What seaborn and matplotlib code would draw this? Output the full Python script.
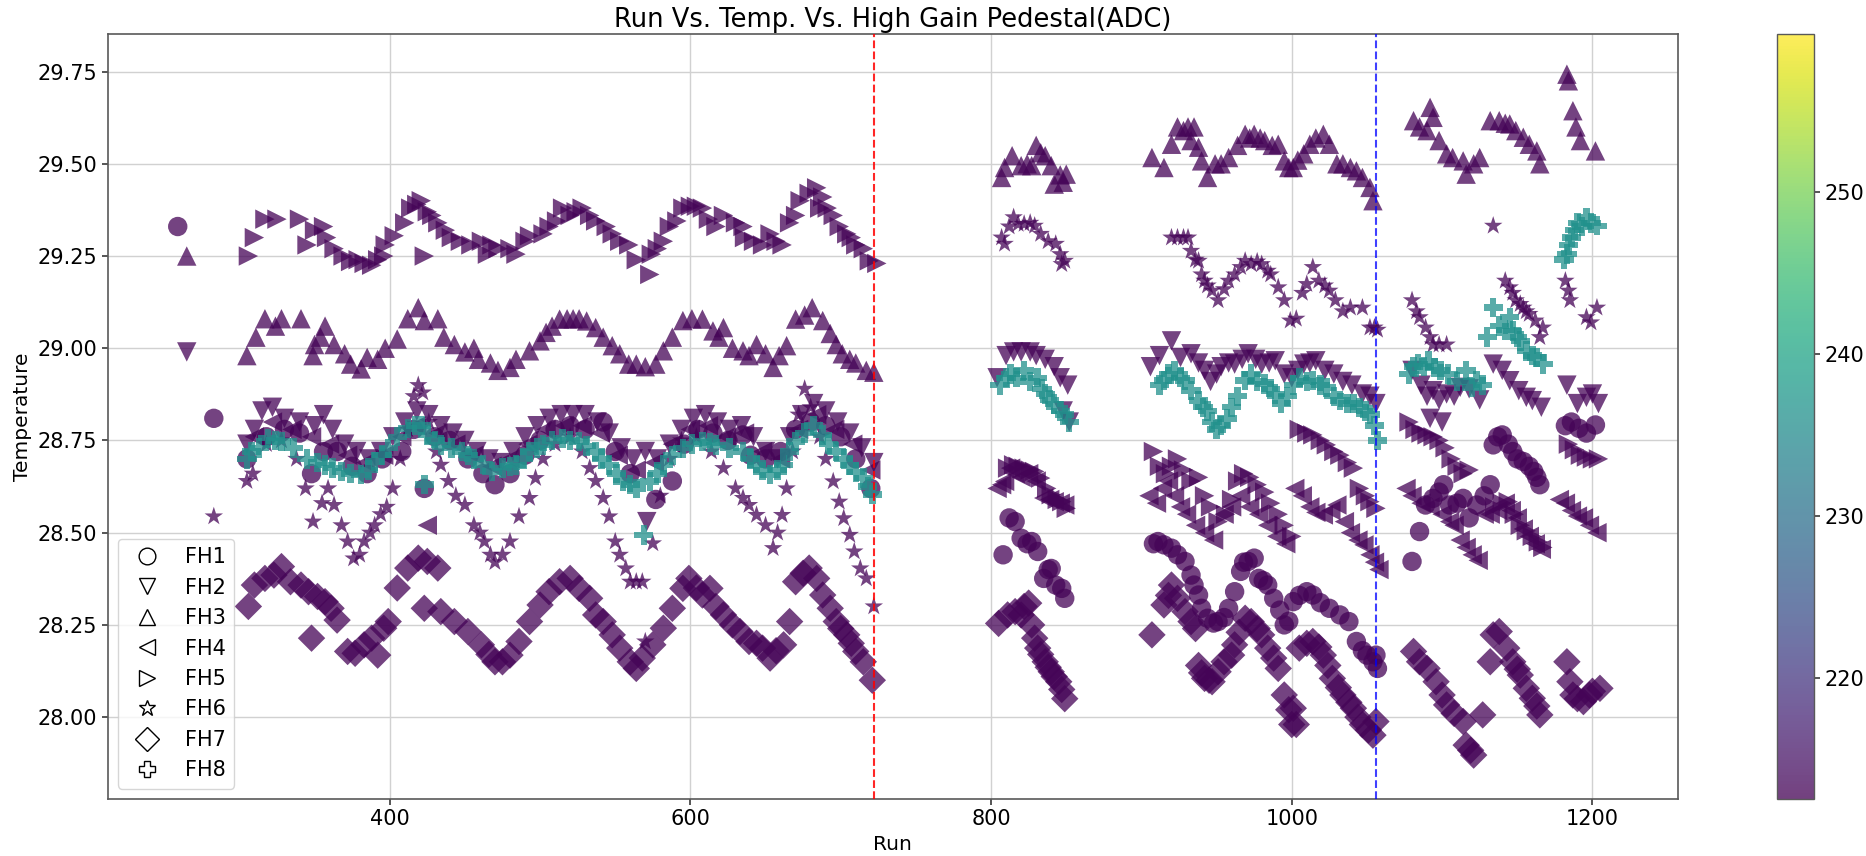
import matplotlib
matplotlib.use("Agg")
import matplotlib.pyplot as plt
import seaborn as sns
import pandas as pd
from matplotlib.lines import Line2D
from matplotlib.colors import Normalize
from matplotlib.cm import ScalarMappable

# ---------------- data (run, temperature) ----------------
fh1 = [(259, 29.33), (283, 28.81),
       (305, 28.70), (318, 28.76), (330, 28.78), (340, 28.77), (348, 28.66), (356, 28.72), (365, 28.72),
       (375, 28.68), (385, 28.66), (395, 28.70), (408, 28.72), (416, 28.78), (423, 28.62), (430, 28.76),
       (440, 28.75), (452, 28.70), (462, 28.66), (470, 28.63), (480, 28.66), (490, 28.71), (500, 28.75),
       (510, 28.78), (520, 28.79), (530, 28.78), (542, 28.80), (550, 28.72), (560, 28.66), (577, 28.59),
       (588, 28.64), (596, 28.74), (605, 28.78), (615, 28.77), (625, 28.75), (635, 28.765), (640, 28.71),
       (650, 28.70), (660, 28.72), (670, 28.78), (680, 28.80), (690, 28.79), (700, 28.76), (710, 28.70),
       (720, 28.62),
       (808, 28.44), (812, 28.54), (816, 28.53), (820, 28.485), (824, 28.47), (827, 28.476), (831, 28.449),
       (835, 28.376), (838, 28.40), (840, 28.403), (843, 28.358), (847, 28.349), (849, 28.322),
       (908, 28.47), (911, 28.476), (915, 28.467), (920, 28.458), (924, 28.44), (929, 28.422), (933, 28.385),
       (935, 28.358), (938, 28.331), (940, 28.295), (944, 28.268), (948, 28.255), (951, 28.259), (955, 28.27),
       (958, 28.295), (962, 28.34), (966, 28.395), (968, 28.42), (971, 28.422), (975, 28.431), (978, 28.376),
       (981, 28.37), (984, 28.358), (988, 28.322), (992, 28.29), (995, 28.25), (998, 28.26), (1001, 28.313),
       (1005, 28.33), (1010, 28.34), (1014, 28.331), (1019, 28.31), (1025, 28.295), (1032, 28.277),
       (1038, 28.259), (1043, 28.205), (1047, 28.18), (1050, 28.168), (1054, 28.15), (1056, 28.168),
       (1057, 28.132),
       (1080, 28.422), (1085, 28.503), (1089, 28.575), (1094, 28.593), (1098, 28.61), (1101, 28.63),
       (1105, 28.575), (1110, 28.58), (1114, 28.593), (1118, 28.54), (1123, 28.575), (1128, 28.60),
       (1132, 28.63), (1134, 28.738), (1137, 28.76), (1140, 28.765), (1144, 28.74), (1147, 28.72),
       (1150, 28.70), (1154, 28.693), (1158, 28.68), (1161, 28.666), (1163, 28.65), (1165, 28.63),
       (1182, 28.79), (1186, 28.80), (1191, 28.783), (1196, 28.77), (1202, 28.792)]

fh2 = [(265, 28.99),
       (305, 28.74), (310, 28.78), (315, 28.83), (322, 28.84), (330, 28.81), (340, 28.80), (350, 28.79),
       (356, 28.82), (362, 28.78), (370, 28.74), (378, 28.72), (386, 28.70), (394, 28.72), (402, 28.76),
       (410, 28.80), (418, 28.83), (426, 28.82), (434, 28.79), (442, 28.77), (450, 28.75), (458, 28.72),
       (466, 28.70), (474, 28.69), (482, 28.72), (490, 28.76), (498, 28.79), (506, 28.81), (514, 28.82),
       (522, 28.82), (530, 28.82), (538, 28.80), (546, 28.77), (554, 28.73), (562, 28.70), (570, 28.72),
       (571, 28.53), (578, 28.70), (586, 28.74), (594, 28.78), (602, 28.81), (610, 28.82), (618, 28.80),
       (626, 28.78), (634, 28.79), (642, 28.76), (650, 28.72), (658, 28.70), (666, 28.76), (674, 28.82),
       (682, 28.85), (690, 28.83), (698, 28.80), (706, 28.77), (714, 28.73), (722, 28.69),
       (804, 28.92), (810, 28.98), (815, 28.99), (820, 28.99), (826, 28.99), (830, 28.98), (836, 28.97),
       (842, 28.95), (846, 28.92), (848, 28.83), (851, 28.90), (852, 28.80),
       (906, 28.95), (912, 28.98), (920, 29.02), (926, 28.975), (933, 28.985), (938, 28.96), (942, 28.94),
       (946, 28.91), (950, 28.93), (953, 28.95), (958, 28.96), (962, 28.957), (967, 28.97), (971, 28.985),
       (976, 28.97), (980, 28.957), (985, 28.96), (989, 28.966), (995, 28.93), (1000, 28.92), (1004, 28.94),
       (1008, 28.957), (1012, 28.96), (1016, 28.966), (1022, 28.94), (1028, 28.93), (1034, 28.91),
       (1040, 28.90), (1047, 28.876), (1052, 28.87), (1056, 28.85),
       (1080, 28.94), (1086, 28.90), (1090, 28.87), (1092, 28.81), (1094, 28.885), (1098, 28.86),
       (1100, 28.80), (1103, 28.876), (1108, 28.87), (1112, 28.894), (1118, 28.89), (1125, 28.86),
       (1134, 28.957), (1140, 28.94), (1145, 28.912), (1151, 28.885), (1156, 28.867), (1160, 28.858),
       (1166, 28.84), (1183, 28.90), (1190, 28.85), (1196, 28.867), (1200, 28.876), (1204, 28.85)]

fh3 = [(265, 29.25),
       (305, 28.98), (311, 29.03), (317, 29.08), (324, 29.06), (328, 29.08), (341, 29.08), (349, 28.98),
       (350, 29.01), (354, 29.03), (357, 29.06), (363, 29.01), (370, 28.985), (374, 28.957), (381, 28.944),
       (385, 28.975), (392, 28.97), (397, 29.00), (405, 29.025), (412, 29.08), (419, 29.11), (423, 29.075),
       (432, 29.08), (436, 29.03), (443, 29.01), (450, 28.99), (456, 29.00), (459, 28.97), (467, 28.96),
       (472, 28.94), (480, 28.948), (484, 28.97), (493, 28.993), (500, 29.02), (504, 29.043), (508, 29.06),
       (513, 29.079), (518, 29.08), (522, 29.08), (526, 29.08), (531, 29.074), (537, 29.056), (542, 29.03),
       (548, 29.007), (553, 28.985), (559, 28.957), (564, 28.957), (570, 28.95), (577, 28.957), (582, 28.993),
       (588, 29.03), (595, 29.075), (601, 29.08), (608, 29.079), (615, 29.047), (619, 29.03), (622, 29.056),
       (628, 29.00), (635, 28.993), (639, 28.98), (644, 29.01), (650, 28.985), (655, 28.948), (659, 28.98),
       (664, 29.007), (670, 29.079), (676, 29.09), (681, 29.11), (688, 29.075), (693, 29.04), (697, 29.01),
       (701, 28.985), (706, 28.97), (710, 28.96), (717, 28.94), (722, 28.935),
       (807, 29.463), (809, 29.49), (814, 29.522), (820, 29.495), (824, 29.50), (827, 29.495), (830, 29.55),
       (833, 29.53), (836, 29.522), (840, 29.495), (842, 29.445), (846, 29.47), (848, 29.45), (850, 29.472),
       (907, 29.517), (915, 29.49), (920, 29.553), (924, 29.60), (928, 29.59), (931, 29.60), (933, 29.563),
       (935, 29.60), (938, 29.545), (940, 29.508), (944, 29.463), (949, 29.50), (953, 29.50), (958, 29.517),
       (964, 29.55), (969, 29.58), (972, 29.57), (975, 29.58), (979, 29.57), (982, 29.563), (987, 29.55),
       (991, 29.553), (995, 29.508), (998, 29.49), (1001, 29.49), (1004, 29.51), (1008, 29.527),
       (1012, 29.553), (1016, 29.57), (1021, 29.58), (1025, 29.553), (1030, 29.50), (1034, 29.50),
       (1039, 29.49), (1043, 29.481), (1047, 29.463), (1052, 29.436), (1054, 29.40),
       (1081, 29.617), (1085, 29.60), (1090, 29.59), (1092, 29.653), (1094, 29.626), (1098, 29.563),
       (1103, 29.527), (1107, 29.517), (1114, 29.508), (1116, 29.472), (1121, 29.50), (1125, 29.517),
       (1132, 29.617), (1138, 29.617), (1142, 29.61), (1145, 29.608), (1149, 29.59), (1154, 29.572),
       (1158, 29.553), (1163, 29.535), (1165, 29.50), (1183, 29.743), (1184, 29.725), (1187, 29.644),
       (1189, 29.60), (1192, 29.563), (1202, 29.535)]

fh4 = [(310, 28.76), (322, 28.80), (335, 28.78), (348, 28.76), (360, 28.74), (372, 28.71), (384, 28.69),
       (396, 28.71), (408, 28.76), (418, 28.79), (425, 28.52), (432, 28.77), (444, 28.74), (456, 28.71),
       (468, 28.68), (480, 28.70), (492, 28.74), (504, 28.78), (516, 28.79), (528, 28.79), (540, 28.77),
       (552, 28.71), (564, 28.67), (576, 28.69), (588, 28.74), (600, 28.78), (612, 28.79), (624, 28.76),
       (636, 28.77), (648, 28.72), (660, 28.70), (672, 28.78), (684, 28.82), (696, 28.78), (708, 28.74),
       (720, 28.67),
       (804, 28.62), (807, 28.63), (809, 28.639), (813, 28.675), (816, 28.66), (820, 28.65), (825, 28.66),
       (830, 28.64), (835, 28.594), (839, 28.59), (842, 28.584), (846, 28.58), (849, 28.575),
       (905, 28.60), (910, 28.58), (914, 28.62), (918, 28.64), (922, 28.60), (926, 28.57), (930, 28.55),
       (936, 28.52), (942, 28.50), (948, 28.48), (955, 28.55), (960, 28.57), (966, 28.60), (972, 28.57),
       (978, 28.55), (984, 28.52), (990, 28.49), (996, 28.47), (1002, 28.62), (1007, 28.60), (1012, 28.57),
       (1016, 28.555), (1021, 28.548), (1026, 28.56), (1030, 28.575), (1035, 28.53), (1039, 28.50),
       (1044, 28.48), (1048, 28.467), (1052, 28.44), (1055, 28.42), (1058, 28.40),
       (1076, 28.62), (1080, 28.60), (1086, 28.58), (1092, 28.57), (1100, 28.55), (1105, 28.53),
       (1108, 28.52), (1112, 28.48), (1116, 28.46), (1120, 28.44), (1124, 28.425), (1128, 28.55),
       (1132, 28.55), (1137, 28.56), (1142, 28.58), (1146, 28.56), (1150, 28.54), (1154, 28.51),
       (1158, 28.49), (1162, 28.47), (1166, 28.455), (1178, 28.59), (1182, 28.58), (1186, 28.56),
       (1190, 28.545), (1194, 28.54), (1198, 28.52), (1203, 28.50)]

fh5 = [(306, 29.25), (310, 29.30), (317, 29.35), (325, 29.35), (340, 29.35), (345, 29.28), (350, 29.32),
       (356, 29.33), (358, 29.30), (363, 29.27), (369, 29.25), (374, 29.235), (379, 29.24), (383, 29.23),
       (388, 29.225), (392, 29.24), (396, 29.25), (397, 29.28), (403, 29.305), (410, 29.34), (414, 29.38),
       (418, 29.39), (421, 29.40), (423, 29.25), (425, 29.37), (428, 29.36), (432, 29.34), (437, 29.32),
       (441, 29.30), (447, 29.29), (454, 29.28), (461, 29.29), (465, 29.255), (468, 29.28), (472, 29.27),
       (480, 29.27), (484, 29.255), (490, 29.29), (493, 29.305), (502, 29.31), (506, 29.33), (511, 29.345),
       (515, 29.38), (520, 29.36), (524, 29.37), (528, 29.38), (533, 29.36), (537, 29.345), (544, 29.33),
       (548, 29.31), (553, 29.29), (559, 29.28), (564, 29.24), (573, 29.20), (574, 29.255), (578, 29.27),
       (582, 29.29), (586, 29.33), (591, 29.345), (595, 29.38), (600, 29.385), (604, 29.385), (608, 29.38),
       (612, 29.35), (617, 29.33), (622, 29.36), (630, 29.34), (635, 29.33), (636, 29.30), (642, 29.29),
       (648, 29.28), (653, 29.31), (657, 29.29), (661, 29.28), (666, 29.34), (670, 29.36), (673, 29.40),
       (679, 29.42), (684, 29.435), (686, 29.38), (688, 29.41), (691, 29.38), (695, 29.36), (699, 29.33),
       (704, 29.31), (707, 29.30), (710, 29.28), (715, 29.27), (719, 29.237), (724, 29.23),
       (811, 28.675), (815, 28.684), (818, 28.68), (822, 28.675), (826, 28.67), (829, 28.666), (833, 28.648),
       (837, 28.62), (840, 28.603), (844, 28.59), (847, 28.584), (850, 28.566),
       (908, 28.72), (912, 28.68), (916, 28.66), (920, 28.68), (924, 28.70), (928, 28.67), (933, 28.64),
       (938, 28.65), (942, 28.60), (946, 28.57), (951, 28.53), (956, 28.55), (960, 28.59), (964, 28.64),
       (968, 28.66), (972, 28.65), (977, 28.63), (982, 28.61), (986, 28.58), (991, 28.55), (995, 28.52),
       (1000, 28.49), (1005, 28.78), (1010, 28.77), (1014, 28.765), (1019, 28.75), (1023, 28.738),
       (1028, 28.72), (1032, 28.71), (1037, 28.69), (1041, 28.675), (1045, 28.62), (1049, 28.60),
       (1052, 28.584), (1056, 28.566),
       (1078, 28.80), (1082, 28.78), (1086, 28.77), (1090, 28.765), (1094, 28.76), (1098, 28.75),
       (1102, 28.73), (1106, 28.70), (1110, 28.68), (1114, 28.66), (1118, 28.67), (1135, 28.57),
       (1140, 28.58), (1144, 28.584), (1148, 28.55), (1152, 28.52), (1156, 28.505), (1160, 28.49),
       (1164, 28.475), (1167, 28.46), (1184, 28.74), (1188, 28.725), (1192, 28.71), (1196, 28.705),
       (1200, 28.70), (1204, 28.70)]

fh6 = [(283, 28.544),
       (305, 28.64), (309, 28.66), (318, 28.74), (328, 28.75), (338, 28.70), (344, 28.62), (349, 28.53),
       (355, 28.58), (359, 28.62), (363, 28.575), (368, 28.52), (372, 28.476), (376, 28.43), (380, 28.44),
       (383, 28.476), (387, 28.50), (390, 28.52), (394, 28.55), (398, 28.57), (402, 28.62), (407, 28.70),
       (412, 28.78), (416, 28.87), (419, 28.90), (422, 28.88), (426, 28.80), (431, 28.72), (434, 28.684),
       (439, 28.64), (444, 28.60), (450, 28.575), (456, 28.52), (460, 28.50), (463, 28.476), (467, 28.44),
       (470, 28.42), (475, 28.44), (480, 28.476), (486, 28.544), (493, 28.594), (497, 28.648), (502, 28.70),
       (510, 28.74), (520, 28.76), (528, 28.72), (533, 28.675), (537, 28.64), (542, 28.594), (546, 28.544),
       (550, 28.476), (553, 28.44), (557, 28.403), (560, 28.367), (564, 28.367), (568, 28.367), (570, 28.205),
       (575, 28.471), (580, 28.60), (586, 28.70), (594, 28.75), (604, 28.76), (614, 28.72), (622, 28.675),
       (630, 28.62), (635, 28.594), (639, 28.575), (644, 28.548), (650, 28.52), (655, 28.458), (658, 28.50),
       (661, 28.548), (664, 28.62), (668, 28.72), (672, 28.82), (676, 28.89), (680, 28.84), (686, 28.76),
       (690, 28.70), (695, 28.639), (699, 28.584), (702, 28.539), (706, 28.494), (709, 28.449),
       (713, 28.403), (717, 28.376), (722, 28.30),
       (807, 29.30), (809, 29.283), (812, 29.33), (815, 29.355), (818, 29.337), (822, 29.337), (826, 29.34),
       (829, 29.332), (833, 29.31), (838, 29.29), (843, 29.283), (846, 29.255), (847, 29.228), (849, 29.237),
       (920, 29.30), (924, 29.30), (928, 29.30), (931, 29.30), (933, 29.264), (936, 29.24), (938, 29.237),
       (940, 29.20), (942, 29.183), (944, 29.17), (947, 29.156), (951, 29.13), (955, 29.16), (958, 29.183),
       (962, 29.20), (966, 29.22), (969, 29.237), (973, 29.228), (977, 29.235), (980, 29.228), (984, 29.21),
       (986, 29.20), (991, 29.165), (995, 29.13), (999, 29.075), (1003, 29.08), (1007, 29.15),
       (1010, 29.174), (1014, 29.22), (1018, 29.183), (1022, 29.17), (1025, 29.156), (1029, 29.13),
       (1034, 29.10), (1039, 29.11), (1047, 29.11), (1052, 29.056), (1055, 29.056), (1057, 29.05),
       (1080, 29.13), (1083, 29.10), (1085, 29.084), (1089, 29.056), (1092, 29.03), (1094, 29.01),
       (1098, 29.01), (1103, 29.01), (1134, 29.332), (1142, 29.183), (1145, 29.165), (1147, 29.15),
       (1149, 29.13), (1152, 29.12), (1154, 29.11), (1156, 29.10), (1158, 29.093), (1162, 29.075),
       (1165, 29.03), (1167, 29.056), (1182, 29.183), (1184, 29.156), (1185, 29.13), (1196, 29.084),
       (1199, 29.07), (1203, 29.11)]

fh7 = [(306, 28.30), (310, 28.358), (317, 28.376), (323, 28.385), (328, 28.408), (334, 28.367), (341, 28.358),
       (346, 28.34), (348, 28.214), (352, 28.327), (357, 28.313), (361, 28.295), (365, 28.263), (372, 28.178),
       (377, 28.173), (383, 28.196), (388, 28.214), (392, 28.168), (396, 28.241), (399, 28.259), (405, 28.35),
       (412, 28.404), (419, 28.431), (425, 28.422), (423, 28.295), (432, 28.404), (434, 28.286), (443, 28.259),
       (452, 28.232), (461, 28.196), (466, 28.17), (470, 28.15), (475, 28.15), (480, 28.168), (486, 28.205),
       (493, 28.259), (500, 28.304), (506, 28.34), (513, 28.367), (520, 28.376), (526, 28.349), (533, 28.322),
       (537, 28.277), (542, 28.259), (548, 28.223), (553, 28.187), (560, 28.15), (564, 28.132), (568, 28.16),
       (575, 28.196), (582, 28.241), (588, 28.295), (595, 28.349), (599, 28.376), (604, 28.35), (608, 28.331),
       (613, 28.349), (617, 28.30), (622, 28.277), (628, 28.25), (633, 28.232), (639, 28.205), (644, 28.20),
       (648, 28.187), (653, 28.16), (657, 28.18), (662, 28.196), (666, 28.259), (670, 28.367), (675, 28.39),
       (679, 28.404), (684, 28.376), (688, 28.331), (693, 28.295), (697, 28.259), (700, 28.24), (704, 28.223),
       (707, 28.20), (710, 28.178), (715, 28.15), (721, 28.10),
       (805, 28.254), (811, 28.277), (816, 28.286), (820, 28.277), (822, 28.30), (825, 28.309), (827, 28.25),
       (829, 28.214), (831, 28.187), (833, 28.17), (836, 28.15), (838, 28.135), (840, 28.123), (842, 28.11),
       (845, 28.096), (847, 28.075), (849, 28.05),
       (907, 28.223), (915, 28.304), (918, 28.33), (920, 28.358), (924, 28.322), (929, 28.286), (933, 28.259),
       (936, 28.24), (938, 28.14), (940, 28.12), (942, 28.105), (945, 28.10), (947, 28.096), (951, 28.123),
       (955, 28.15), (960, 28.168), (962, 28.196), (965, 28.23), (969, 28.268), (973, 28.259), (977, 28.24),
       (980, 28.223), (984, 28.187), (988, 28.16), (991, 28.132), (995, 28.06), (998, 28.02), (1000, 27.98),
       (1001, 28.024), (1003, 27.98), (1005, 28.187), (1010, 28.20), (1014, 28.205), (1018, 28.19),
       (1021, 28.168), (1024, 28.14), (1027, 28.105), (1031, 28.08), (1034, 28.06), (1038, 28.04),
       (1041, 28.024), (1044, 28.00), (1047, 27.98), (1051, 27.965), (1054, 27.951), (1056, 27.988),
       (1081, 28.178), (1085, 28.15), (1090, 28.132), (1096, 28.096), (1100, 28.06), (1103, 28.033),
       (1108, 28.01), (1114, 27.988), (1116, 27.924), (1119, 27.91), (1121, 27.897), (1127, 28.006),
       (1132, 28.15), (1134, 28.223), (1138, 28.232), (1143, 28.187), (1147, 28.15), (1150, 28.13),
       (1152, 28.114), (1156, 28.078), (1160, 28.051), (1163, 28.03), (1165, 28.006), (1183, 28.15),
       (1185, 28.096), (1187, 28.06), (1190, 28.05), (1194, 28.042), (1198, 28.06), (1200, 28.07),
       (1205, 28.078)]

fh8 = [(305, 28.70), (308, 28.72), (313, 28.73), (319, 28.756), (324, 28.75), (328, 28.747), (336, 28.73),
       (345, 28.70), (352, 28.69), (357, 28.684), (362, 28.675), (368, 28.666), (374, 28.66), (381, 28.657),
       (386, 28.67), (390, 28.693), (395, 28.71), (399, 28.729), (405, 28.76), (412, 28.783), (417, 28.79),
       (421, 28.79), (423, 28.63), (425, 28.765), (430, 28.75), (434, 28.738), (441, 28.73), (448, 28.72),
       (452, 28.71), (456, 28.70), (462, 28.685), (468, 28.666), (475, 28.675), (480, 28.68), (484, 28.684),
       (489, 28.70), (493, 28.72), (498, 28.73), (502, 28.738), (508, 28.75), (515, 28.756), (520, 28.75),
       (526, 28.747), (531, 28.735), (537, 28.72), (541, 28.70), (546, 28.684), (551, 28.66), (555, 28.639),
       (560, 28.63), (564, 28.62), (569, 28.494), (573, 28.639), (578, 28.66), (582, 28.684), (588, 28.71),
       (595, 28.729), (601, 28.74), (608, 28.747), (613, 28.745), (617, 28.738), (626, 28.73), (635, 28.72),
       (640, 28.70), (644, 28.684), (648, 28.67), (653, 28.657), (658, 28.67), (662, 28.684), (666, 28.72),
       (670, 28.747), (676, 28.77), (682, 28.79), (688, 28.765), (692, 28.74), (697, 28.72), (702, 28.70),
       (706, 28.684), (710, 28.665), (715, 28.648), (718, 28.625), (721, 28.603),
       (806, 28.90), (810, 28.92), (813, 28.93), (817, 28.92), (822, 28.94), (826, 28.91), (831, 28.92),
       (834, 28.89), (836, 28.876), (839, 28.86), (842, 28.849), (846, 28.83), (849, 28.82), (852, 28.80),
       (912, 28.90), (915, 28.912), (918, 28.93), (922, 28.94), (926, 28.92), (929, 28.912), (933, 28.885),
       (938, 28.858), (941, 28.84), (944, 28.83), (947, 28.80), (950, 28.78), (953, 28.79), (957, 28.81),
       (960, 28.84), (964, 28.87), (969, 28.912), (973, 28.93), (977, 28.91), (982, 28.903), (986, 28.89),
       (989, 28.876), (993, 28.85), (997, 28.87), (1001, 28.90), (1005, 28.92), (1010, 28.91), (1014, 28.912),
       (1019, 28.90), (1023, 28.894), (1028, 28.87), (1032, 28.858), (1037, 28.85), (1041, 28.85),
       (1045, 28.84), (1049, 28.83), (1052, 28.82), (1055, 28.79), (1057, 28.75),
       (1078, 28.93), (1081, 28.95), (1084, 28.957), (1088, 28.95), (1091, 28.966), (1095, 28.948),
       (1099, 28.94), (1104, 28.93), (1110, 28.91), (1116, 28.94), (1120, 28.894), (1123, 28.912),
       (1127, 28.90), (1130, 29.03), (1134, 29.11), (1138, 29.06), (1142, 29.05), (1145, 29.084),
       (1147, 29.047), (1150, 29.03), (1152, 29.02), (1156, 28.993), (1160, 28.98), (1163, 28.975),
       (1167, 28.957), (1181, 29.24), (1183, 29.255), (1184, 29.28), (1186, 29.30), (1188, 29.32),
       (1190, 29.34), (1193, 29.33), (1196, 29.355), (1199, 29.34), (1203, 29.332)]

fh_names = ["FH1", "FH2", "FH3", "FH4", "FH5", "FH6", "FH7", "FH8"]
fh_markers = ["o", "v", "^", "<", ">", "*", "D", "P"]
fh_pedestal = [213.0, 213.0, 213.0, 213.0, 213.0, 213.0, 213.0, 236.3]   # ADC
pedestal_range = [212.5, 259.8]
cbar_ticks = [220, 230, 240, 250]
x_ticks = [400, 600, 800, 1000, 1200]
y_ticks = [28.00, 28.25, 28.50, 28.75, 29.00, 29.25, 29.50, 29.75]
red_line_run = 722
blue_line_run = 1056

# ---------------- style ----------------
sns.set_theme(style="whitegrid", rc={
    "axes.edgecolor": "0.35",
    "axes.linewidth": 1.2,
    "grid.color": "0.82",
    "grid.linewidth": 1.0,
    "xtick.bottom": True,
    "ytick.left": True,
    "xtick.color": "0.25",
    "ytick.color": "0.25",
    "xtick.major.size": 4,
    "ytick.major.size": 4,
    "text.color": "black",
    "axes.labelcolor": "black",
})
plt.rcParams["font.family"] = ["DejaVu Sans"]

fig = plt.figure(figsize=(18.66, 8.56), dpi=100)
ax = fig.add_axes([0.0577, 0.0666, 0.8413, 0.8937])
cax = fig.add_axes([0.9523, 0.0666, 0.0198, 0.8937])

norm = Normalize(vmin=pedestal_range[0], vmax=pedestal_range[1])
series = [fh1, fh2, fh3, fh4, fh5, fh6, fh7, fh8]

for name, mk, ped, pts in zip(fh_names, fh_markers, fh_pedestal, series):
    df = pd.DataFrame(pts, columns=["Run", "Temperature"])
    df["Pedestal"] = ped
    sns.scatterplot(data=df, x="Run", y="Temperature", hue="Pedestal",
                    palette="viridis", hue_norm=norm, marker=mk, s=195,
                    alpha=0.75, linewidth=0, legend=False, ax=ax, zorder=3)

ax.axvline(red_line_run, color="red", linestyle="--", linewidth=1.5, alpha=0.85, zorder=4)
ax.axvline(blue_line_run, color="blue", linestyle="--", linewidth=1.5, alpha=0.75, zorder=4)

ax.set_xlim(212.4, 1256.6)
ax.set_ylim(27.778, 29.852)
ax.set_xticks(x_ticks)
ax.set_yticks(y_ticks)
ax.set_yticklabels([f"{v:.2f}" for v in y_ticks])
ax.tick_params(axis="both", labelsize=15, colors="0.25", labelcolor="black")
ax.set_xlabel("Run", fontsize=14.5)
ax.set_ylabel("Temperature", fontsize=14.5)
ax.set_title("Run Vs. Temp. Vs. High Gain Pedestal(ADC)", fontsize=18.5, pad=5)
ax.grid(True, zorder=0)
ax.set_axisbelow(True)

handles = [Line2D([0], [0], marker=mk, linestyle="None", markerfacecolor="none",
                  markeredgecolor="black", markeredgewidth=1.0, markersize=12, label=name)
           for name, mk in zip(fh_names, fh_markers)]
leg = ax.legend(handles=handles, loc="lower left", fontsize=15, frameon=True,
                framealpha=0.8, edgecolor="0.8", fancybox=True)

sm = ScalarMappable(norm=norm, cmap="viridis")
cb = fig.colorbar(sm, cax=cax, alpha=0.75)
cb.set_ticks(cbar_ticks)
cb.ax.tick_params(labelsize=15, length=4, colors="0.25", labelcolor="black")
cb.outline.set_edgecolor("0.35")
cb.outline.set_linewidth(1.0)
cax.grid(False)

fig.savefig("out.png", dpi=100)
